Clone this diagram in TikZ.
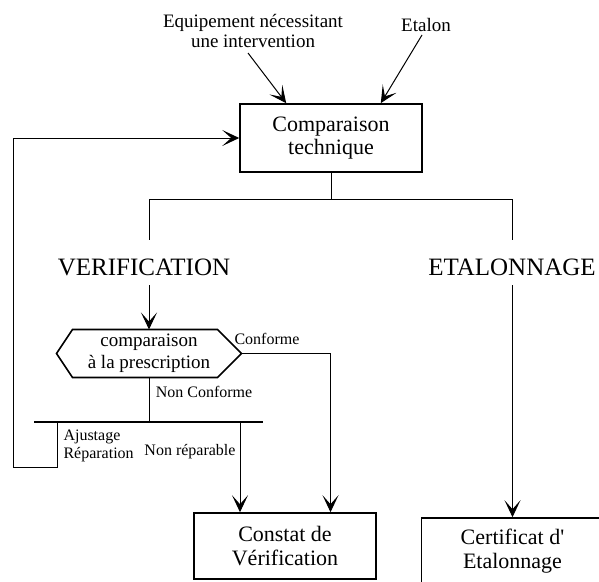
\documentclass[tikz,border=0pt]{standalone}
\usepackage{fontspec}
\setmainfont{Liberation Serif}
\usetikzlibrary{arrows.meta}

\tikzset{
	arr/.style={-{Stealth[length=17pt,width=16pt,inset=9pt]}},
	box/.style={draw, line width=1.6pt, minimum width=182pt, minimum height=68pt, align=center, inner sep=0pt, font=\fontsize{22}{23.5}\selectfont},
	txt/.style={align=center, inner sep=0pt, font=\fontsize{19}{20}\selectfont},
	big/.style={inner sep=0pt, font=\fontsize{25}{27}\selectfont},
	lab/.style={inner sep=0pt, font=\fontsize{16}{18}\selectfont},
	hexa/.style={minimum width=184pt, minimum height=47pt, align=center, inner sep=0pt, font=\fontsize{19}{22}\selectfont},
	barline/.style={line width=2pt}
}

\begin{document}
\begin{tikzpicture}[x=1pt, y=-1pt, line width=1pt]
				\useasboundingbox (0,0) rectangle (599,581);
				
				% Inputs
				\node[box] (comp) at (331,138) {Comparaison\\technique};
				\node[txt] (equip) at (253,31) {Equipement nécessitant\\une intervention};
				\node[txt] (etalon) at (426,25) {Etalon};
				\coordinate (equipend) at (248,53);
				\coordinate (etalonend) at (422,35);
				\draw[arr] (equipend) -- ([xshift=47pt]comp.north west);
				\draw[arr] (etalonend) -- ([xshift=-42pt]comp.north east);
				
				% Branches
				\coordinate (brL) at (149,199);
				\coordinate (brR) at (512.5,199);
				\draw (comp.south) -- (comp.south |- brL);
				\draw (brL) -- (brR);
				\node[big] (verif) at (144,267) {VERIFICATION};
				\node[big] (etal) at (512,267) {ETALONNAGE};
				\draw (brL) -- ++(0,41);
				\draw (brR) -- ++(0,41);
				
				% Comparison to the prescription
				\node[hexa] (presc) at (149,353.5) {comparaison\\à la prescription};
				\draw[line width=1.6pt] (presc.west) -- ([xshift=16pt]presc.north west) -- ([xshift=-24pt]presc.north east) -- (presc.east) -- ([xshift=-24pt]presc.south east) -- ([xshift=16pt]presc.south west) -- cycle;
				\coordinate (verifend) at (149,285);
				\draw[arr] (verifend) -- (presc.north);
				
				% Results
				\node[box, minimum height=66pt] (cons) at (285,546) {Constat de\\Vérification};
				\node[box, minimum height=66pt] (cert) at (512.5,551) {Certificat d\textquotesingle\\Etalonnage};
				\node[lab] (conf) at (267,339) {Conforme};
				\draw[arr] (presc.east) -| ([xshift=45.5pt]cons.north); % conforme
				\coordinate (etalend) at (512.5,285);
				\draw[arr] (etalend) -- (cert.north);
				
				% Non conforme
				\node[lab] (nonconf) at (204,392) {Non Conforme};
				\coordinate (barL) at (34,422);
				\coordinate (barR) at (263,422);
				\draw[barline] (barL) -- (barR); % horizontal bar
				\draw (presc.south) -- (presc.south |- barL);
				
				% Back to the comparison
				\node[lab, anchor=west, align=left] (repar) at (63,446) {Ajustage\\Réparation};
				\coordinate (ajust) at (57,422);
				\coordinate (loop) at (13,467);
				\draw[arr] (ajust) |- (loop) |- (comp.west);
				
				% Not repairable
				\node[lab] (nonrep) at (190,452) {Non réparable};
				\coordinate (nonrepstart) at (240,422);
				\draw[arr] (nonrepstart) -- (nonrepstart |- cons.north);
\end{tikzpicture}
\end{document}
